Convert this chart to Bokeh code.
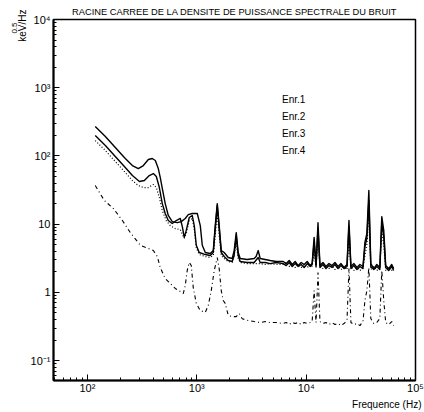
from bokeh.plotting import figure
from bokeh.models import (Range1d, FixedTicker, CustomJSTickFormatter, Legend, LegendItem, Title)
from bokeh.embed import file_html
from bokeh.resources import INLINE

FONT = "Liberation Sans"

title_text = "RACINE CARREE DE LA DENSITE DE PUISSANCE SPECTRALE DU BRUIT"
x_label = "Frequence (Hz)"
y_label = "keV/Hz"
y_label_exp = "0.5"
series_names = ["Enr.1", "Enr.2", "Enr.3", "Enr.4"]

x_tick_vals = [1e2, 1e3, 1e4, 1e5]
x_tick_labels = ["10\u00b2", "10\u00b3", "10\u2074", "10\u2075"]
y_tick_vals = [0.1, 1, 10, 100, 1000, 10000]
y_tick_labels = ["10\u207b\u00b9", "1", "10", "10\u00b2", "10\u00b3", "10\u2074"]

# ---- low-frequency parts (Hz, keV/Hz^0.5) ----
f1_lo = [118, 146, 180, 222, 258, 292, 325, 361, 392, 418, 445, 464, 484, 515, 549, 597, 663, 722, 785, 836,
         909, 1011, 1077, 1123, 1197, 1328, 1416, 1476, 1540, 1604, 1675, 1782, 1940, 2109, 2198, 2296, 2393,
         2495, 2891, 3350, 3491, 3648, 3802, 4224, 4688, 5323]
v1_lo = [270, 192, 133, 91.6, 72.3, 65.3, 72.3, 88.5, 91.6, 85.7, 65.3, 48.2, 33.3, 20.0, 13.4, 10.9, 10.5, 10.9,
         12.1, 13.8, 14.3, 14.3, 9.5, 4.9, 3.84, 3.71, 4.1, 9.5, 20.0, 9.5, 4.1, 3.84, 3.24, 3.13, 4.1, 7.5, 3.84,
         3.13, 3.03, 3.13, 3.35, 4.1, 3.13, 3.03, 2.93, 2.83]

f2_lo = [118, 146, 180, 222, 258, 299, 332, 368, 401, 427, 455, 484, 515, 549, 597, 650, 707, 738, 769, 802,
         854, 909, 949, 990, 1054, 1197, 1328, 1416, 1476, 1540, 1604, 1675, 1782, 1940, 2109, 2198, 2296, 2393,
         2495, 2891, 3350, 3648, 3802, 4224, 4688, 5323]
v2_lo = [199, 142, 98, 67.6, 51.6, 42.2, 43.6, 51.6, 55.2, 49.9, 34.4, 20.0, 14.3, 11.3, 10.2, 11.3, 12.1, 9.2,
         6.4, 8.1, 12.5, 13.4, 9.5, 4.9, 3.84, 3.58, 3.47, 3.84, 8.6, 18.7, 8.6, 3.84, 3.35, 2.93, 2.83, 3.47, 6.8,
         3.47, 2.83, 2.74, 2.74, 3.24, 2.74, 2.74, 2.64, 2.74]

f3_lo = [118, 146, 180, 222, 258, 292, 325, 361, 401, 427, 455, 484, 526, 573, 636, 707, 769, 802, 854, 909,
         949, 990, 1054, 1197, 1328, 1416, 1476, 1540, 1604, 1675, 1782, 1940, 2109, 2198, 2296, 2393, 2495, 2891,
         3350, 3802, 4224, 4688, 5323]
v3_lo = [168, 120, 82.8, 57.1, 43.6, 36.8, 34.4, 34.4, 38.1, 34.4, 24.5, 15.8, 11.3, 9.5, 8.6, 8.3, 6.2, 7.3,
         11.3, 12.1, 8.6, 4.54, 3.58, 3.35, 3.24, 3.47, 6.8, 14.8, 6.8, 3.47, 3.13, 2.83, 2.74, 3.6, 5.4, 3.13,
         2.74, 2.64, 2.64, 2.64, 2.56, 2.64, 2.56]

f4_lo = [118, 143, 173, 209, 247, 305, 361, 401, 436, 464, 515, 573, 636, 707, 753, 785, 818, 854, 891, 929,
         990, 1077, 1197, 1274, 1357, 1445, 1540, 1604, 1675, 1746, 1820, 1940, 2109, 2296, 2444, 2606, 2891,
         3350, 3802, 4224, 4688, 5323]
v4_lo = [36.8, 22.2, 16.9, 11.3, 7.5, 4.9, 4.4, 4.1, 3.35, 2.31, 1.59, 1.35, 1.14, 1.03, 0.96, 1.26, 2.09, 2.74,
         2.47, 1.17, 0.69, 0.54, 0.51, 0.64, 1.06, 2.09, 3.24, 2.23, 1.06, 0.76, 0.69, 0.46, 0.44, 0.44, 0.49,
         0.41, 0.39, 0.373, 0.361, 0.373, 0.361, 0.361]

# ---- high-frequency part, common frequency grid ----
f_hi = [6170, 6570, 7000, 7460, 7940, 8460, 9010, 9600, 10230, 10900, 11350, 11830, 12320, 12840, 13380,
        14250, 15180, 16180, 17230, 18360, 19560, 20840, 22200, 23650, 24640, 25680, 27360, 29150, 31050,
        33080, 34480, 35930, 37450, 39030, 41580, 44290, 47190, 49180, 51250, 53410, 56900, 60620, 63180]
v1_hi = [2.83, 2.64, 2.93, 2.56, 2.83, 2.47, 2.74, 2.56, 2.83, 2.47, 2.64, 6.4, 2.56, 10.5, 2.47, 2.74, 2.39,
         2.64, 2.47, 2.74, 2.39, 2.64, 2.31, 2.56, 11.3, 2.39, 2.64, 2.31, 2.56, 2.39, 5.4, 7.3, 31.1, 2.64, 2.23,
         2.56, 2.31, 12.9, 8.1, 2.47, 2.23, 2.56, 2.23]
v2_hi = [2.64, 2.47, 2.74, 2.39, 2.64, 2.39, 2.56, 2.31, 2.64, 2.39, 2.56, 5.4, 2.39, 8.6, 2.31, 2.56, 2.23,
         2.47, 2.31, 2.56, 2.23, 2.47, 2.23, 2.39, 9.2, 2.23, 2.47, 2.16, 2.39, 2.23, 4.69, 6.2, 22.2, 2.39, 2.16,
         2.39, 2.16, 10.5, 6.58, 2.31, 2.09, 2.39, 2.09]
v3_hi = [2.56, 2.74, 2.39, 2.64, 2.31, 2.56, 2.31, 2.56, 2.31, 2.56, 2.39, 4.1, 2.31, 5.75, 2.39, 2.23, 2.47,
         2.23, 2.47, 2.16, 2.39, 2.16, 2.39, 2.16, 6.8, 2.39, 2.09, 2.31, 2.09, 2.31, 3.47, 4.9, 13.4, 2.16, 2.39,
         2.09, 2.31, 8.1, 4.9, 2.09, 2.31, 2.09, 2.31]
v4_hi = [0.349, 0.361, 0.337, 0.361, 0.349, 0.361, 0.337, 0.361, 0.349, 0.361, 0.373, 1.06, 0.361, 1.95, 0.373,
         0.349, 0.361, 0.337, 0.361, 0.337, 0.349, 0.326, 0.349, 0.386, 2.23, 0.361, 0.337, 0.349, 0.326, 0.373,
         0.76, 1.06, 2.31, 0.413, 0.349, 0.361, 0.413, 2.09, 0.76, 0.361, 0.337, 0.373, 0.326]

x_minor = [m * 10 ** e for e in range(1, 5) for m in range(2, 10)]
y_minor = [m * 10.0 ** e for e in range(-2, 4) for m in range(2, 10)]

p = figure(width=424, height=412, x_axis_type="log", y_axis_type="log",
           x_range=Range1d(49, 1e5), y_range=Range1d(0.051, 1e4),
           min_border_left=53, min_border_right=9, min_border_top=19, min_border_bottom=32,
           toolbar_location=None, output_backend="svg")
p.title = Title(text=title_text, align="center", offset=5, text_font=FONT, text_font_size="9.3px",
                text_font_style="normal", text_color="black", standoff=6)
p.background_fill_color = "white"
p.border_fill_color = "white"
p.xgrid.visible = False
p.ygrid.visible = False
p.outline_line_color = "black"
p.outline_line_width = 1.5

fmt_code = """
const i = vals.findIndex(v => Math.abs(Math.log10(v) - Math.log10(tick)) < 1e-6);
return i >= 0 ? labels[i] : "";
"""
p.xaxis.ticker = FixedTicker(ticks=x_tick_vals, minor_ticks=x_minor)
p.yaxis.ticker = FixedTicker(ticks=y_tick_vals, minor_ticks=y_minor)
p.xaxis.formatter = CustomJSTickFormatter(args=dict(vals=x_tick_vals, labels=x_tick_labels), code=fmt_code)
p.yaxis.formatter = CustomJSTickFormatter(args=dict(vals=y_tick_vals, labels=y_tick_labels), code=fmt_code)
for ax in (p.xaxis[0], p.yaxis[0]):
    ax.major_tick_in = 6
    ax.major_tick_out = 0
    ax.minor_tick_in = 3
    ax.minor_tick_out = 0
    ax.axis_line_width = 2
    ax.axis_line_color = "black"
    ax.major_tick_line_color = "black"
    ax.minor_tick_line_color = "black"
    ax.major_label_text_font = FONT
    ax.major_label_text_font_size = "11px"
    ax.major_label_text_color = "black"
p.xaxis.major_label_standoff = 1
p.yaxis.major_label_standoff = 3

# series (drawn bottom-up so that solid lines are on top)
r4 = p.line(f4_lo + f_hi, v4_lo + v4_hi, line_color="black", line_width=1.1, line_dash="4 3 1 3")
r3 = p.line(f3_lo + f_hi, v3_lo + v3_hi, line_color="black", line_width=1.2, line_dash="1 2")
r2 = p.line(f2_lo + f_hi, v2_lo + v2_hi, line_color="black", line_width=1.4, line_join="round")
r1 = p.line(f1_lo + f_hi, v1_lo + v1_hi, line_color="black", line_width=1.4, line_join="round")

legend = Legend(items=[LegendItem(label=n, renderers=[r]) for n, r in zip(series_names, [r1, r2, r3, r4])],
                location=(229, 223), glyph_width=0, glyph_height=14, label_height=14, label_standoff=0,
                spacing=3, padding=0, margin=0, border_line_color=None, background_fill_alpha=0,
                label_text_font=FONT, label_text_font_size="10px", label_text_color="black")
p.add_layout(legend)

p.add_layout(Title(text=x_label, align="right", offset=-6, text_font=FONT, text_font_size="10px",
                   text_font_style="normal", text_color="black", standoff=0), "below")
# y-axis title: "keV/Hz" with a raised "0.5" exponent placed just outside it
p.add_layout(Title(text=y_label, align="right", offset=-10, text_font=FONT, text_font_size="10px",
                   text_font_style="normal", text_color="black", standoff=0), "left")
p.add_layout(Title(text=y_label_exp, align="right", offset=3, text_font=FONT, text_font_size="8px",
                   text_font_style="normal", text_color="black", standoff=-5), "left")

open("out.html", "w").write(file_html(p, INLINE))
